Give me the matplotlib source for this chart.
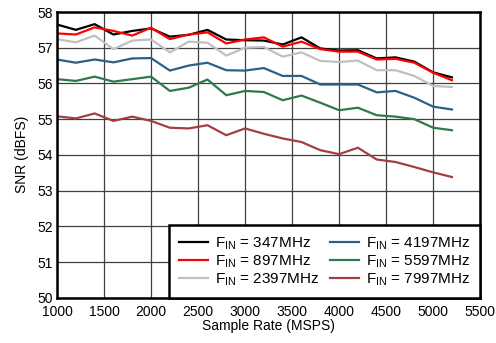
import matplotlib
matplotlib.use("Agg")
import matplotlib.pyplot as plt

plt.rcParams['font.family'] = ['Liberation Sans', 'DejaVu Sans']
plt.rcParams['mathtext.fontset'] = 'custom'
plt.rcParams['mathtext.rm'] = 'Liberation Sans'

# sample rate (MSPS)
rate = [1000, 1200, 1400, 1600, 1800, 2000, 2200, 2400, 2600, 2800, 3000,
        3200, 3400, 3600, 3800, 4000, 4200, 4400, 4600, 4800, 5000, 5200]

# SNR (dBFS) per input frequency
snr_347 = [57.65, 57.50, 57.66, 57.37, 57.47, 57.54, 57.31, 57.36, 57.50, 57.23, 57.21,
           57.20, 57.09, 57.29, 56.98, 56.92, 56.93, 56.70, 56.73, 56.61, 56.31, 56.17]
snr_897 = [57.40, 57.37, 57.57, 57.47, 57.34, 57.56, 57.24, 57.37, 57.43, 57.12, 57.23,
           57.29, 57.03, 57.17, 56.96, 56.89, 56.89, 56.67, 56.69, 56.58, 56.30, 56.09]
snr_2397 = [57.24, 57.15, 57.34, 56.96, 57.20, 57.23, 56.87, 57.17, 57.14, 56.78, 57.00,
            57.02, 56.75, 56.87, 56.63, 56.60, 56.64, 56.37, 56.37, 56.21, 55.93, 55.90]
snr_4197 = [56.67, 56.58, 56.67, 56.59, 56.70, 56.71, 56.36, 56.50, 56.58, 56.37, 56.36,
            56.43, 56.21, 56.21, 55.97, 55.97, 55.97, 55.75, 55.79, 55.60, 55.35, 55.27]
snr_5597 = [56.12, 56.07, 56.19, 56.05, 56.12, 56.19, 55.79, 55.88, 56.11, 55.67, 55.79,
            55.76, 55.53, 55.66, 55.46, 55.25, 55.32, 55.11, 55.07, 55.00, 54.76, 54.69]
snr_7997 = [55.08, 55.02, 55.16, 54.95, 55.07, 54.95, 54.76, 54.74, 54.83, 54.55, 54.74,
            54.59, 54.46, 54.36, 54.13, 54.02, 54.20, 53.87, 53.80, 53.66, 53.51, 53.38]

freqs = ['347', '897', '2397', '4197', '5597', '7997']
colors = ['#000000', '#ff0000', '#c0c0c0', '#2b6184', '#2e7a4e', '#a3403f']
series = [snr_347, snr_897, snr_2397, snr_4197, snr_5597, snr_7997]

fig = plt.figure(figsize=(4.96, 3.43), dpi=100)
ax = fig.add_axes([0.115, 0.132, 0.853, 0.833])

for f, c, s in zip(freqs, colors, series):
    ax.plot(rate, s, color=c, lw=1.6, label=r'F$_{\mathrm{IN}}$ = ' + f + 'MHz')

ax.set_xlim(1000, 5500)
ax.set_ylim(50, 58)
ax.set_xticks(range(1000, 5501, 500))
ax.set_yticks(range(50, 59))
ax.grid(True, color='#404040', lw=0.9)
ax.set_axisbelow(True)
ax.tick_params(length=0, labelsize=10)
ax.tick_params(axis='x', pad=5)
ax.tick_params(axis='y', pad=3)
for sp in ax.spines.values():
    sp.set_linewidth(1.8)
    sp.set_zorder(5)

ax.set_xlabel('Sample Rate (MSPS)', fontsize=10, labelpad=0)
ax.set_ylabel('SNR (dBFS)', fontsize=10, labelpad=6)

leg = ax.legend(loc='lower right', ncol=2, fontsize=11, frameon=True,
                fancybox=False, borderaxespad=0, handlelength=1.9,
                labelspacing=0.08, columnspacing=0.7, handletextpad=0.45,
                borderpad=0.65)
leg.get_frame().set_edgecolor('black')
leg.get_frame().set_linewidth(1.8)
leg.get_frame().set_alpha(1)
leg.set_zorder(6)

fig.savefig('out.png', dpi=100)
